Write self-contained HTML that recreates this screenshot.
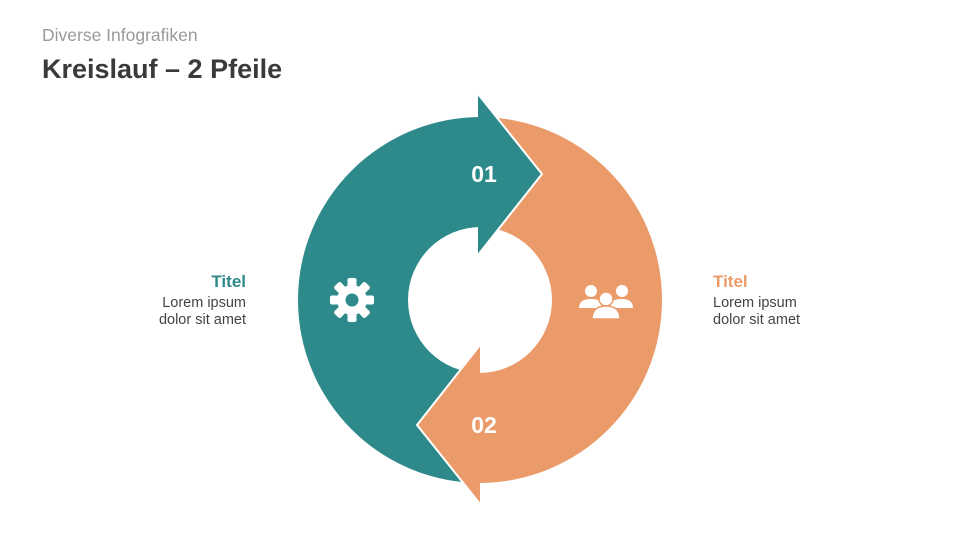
<!DOCTYPE html>
<html><head><meta charset="utf-8"><style>
body{margin:0;width:960px;height:540px;background:#fff;font-family:"Liberation Sans",sans-serif;position:relative;overflow:hidden}
.t{position:absolute;white-space:nowrap}
</style></head><body>
<div class="t" style="left:42px;top:25px;font-size:17.5px;color:#9a9a9a">Diverse Infografiken</div>
<div class="t" style="left:42px;top:54px;font-size:27px;font-weight:bold;color:#3a3a3a">Kreislauf – 2 Pfeile</div>
<div class="t" style="right:714px;top:272px;font-size:17px;font-weight:bold;color:#2e8a8a;text-align:right">Titel</div>
<div class="t" style="right:714px;top:295px;font-size:14.5px;line-height:17px;color:#444;text-align:right">Lorem ipsum<br>dolor sit amet</div>
<div class="t" style="left:713px;top:272px;font-size:17px;font-weight:bold;color:#eb9b6a">Titel</div>
<div class="t" style="left:713px;top:295px;font-size:14.5px;line-height:17px;color:#444">Lorem ipsum<br>dolor sit amet</div>
<svg width="960" height="540" style="position:absolute;left:0;top:0">
<path d="M481 483 A183 183 0 0 1 481 117 L481 227 A73 73 0 0 0 481 373 Z" fill="#2e8a8a"/>
<path d="M479 117 A183 183 0 0 1 479 483 L479 373 A73 73 0 0 0 479 227 Z" fill="#eb9b6a"/>
<path d="M478 94 L542 174 L478 255 Z" fill="#2e8a8a"/>
<polyline points="478,94 542,174 478,255" fill="none" stroke="#fff" stroke-width="2" stroke-linejoin="miter"/>
<path d="M480 345 L417 425 L480 504 Z" fill="#eb9b6a"/>
<polyline points="480,345 417,425 480,504" fill="none" stroke="#fff" stroke-width="2"/>
<text x="484" y="182" font-family="Liberation Sans" font-weight="bold" font-size="23" fill="#fff" text-anchor="middle">01</text>
<text x="484" y="433" font-family="Liberation Sans" font-weight="bold" font-size="23" fill="#fff" text-anchor="middle">02</text>
<g transform="translate(352,300)" fill="#fff">
<circle r="15"/>
<g><rect x="-4.5" y="-22" width="9" height="44" rx="2"/><rect x="-4.5" y="-22" width="9" height="44" rx="2" transform="rotate(45)"/><rect x="-4.5" y="-22" width="9" height="44" rx="2" transform="rotate(90)"/><rect x="-4.5" y="-22" width="9" height="44" rx="2" transform="rotate(135)"/></g>
<circle r="6.5" fill="#2e8a8a"/>
</g>
<g transform="translate(606,300)" fill="#fff">
<circle cx="-15" cy="-9" r="6"/><circle cx="16" cy="-9" r="6"/>
<path d="M-27 8 Q-27 -1 -15 -1 Q-6 -1 -4 4 L-4 8 Z"/>
<path d="M27 8 Q27 -1 16 -1 Q6 -1 4 4 L4 8 Z"/>
<circle cx="0" cy="-1" r="7" stroke="#eb9b6a" stroke-width="1.5"/>
<path d="M-14 19 Q-14 6 0 6 Q14 6 14 19 Z" stroke="#eb9b6a" stroke-width="1.5"/>
</g>
</svg>
</body></html>
